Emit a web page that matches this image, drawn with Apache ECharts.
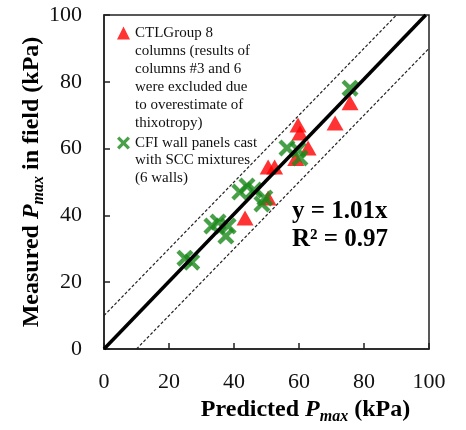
<!DOCTYPE html>
<html><head><meta charset="utf-8">
<script src="https://cdn.jsdelivr.net/npm/echarts@6/dist/echarts.min.js"></script>
<style>html,body{margin:0;padding:0;background:#fff}#c{width:466px;height:430px}</style>
</head><body><div id="c"></div>
<script>
const xTicks = [0, 20, 40, 60, 80, 100];
const yTicks = [0, 20, 40, 60, 80, 100];
const ctlPredicted = [75.7, 71.1, 59.7, 60.3, 62.8, 59.0, 50.5, 52.5, 50.5, 43.4];
const ctlMeasured  = [73.7, 67.7, 67.1, 64.7, 60.2, 57.0, 54.5, 54.5, 45.2, 39.2];
const cfiPredicted = [75.7, 56.3, 59.7, 60.3, 44.0, 41.8, 46.2, 49.5, 48.6, 35.1, 38.2, 37.5, 33.2, 24.9, 27.0];
const cfiMeasured  = [78.1, 60.2, 59.6, 57.2, 48.8, 47.0, 47.6, 45.2, 43.4, 38.0, 36.8, 33.8, 36.8, 27.2, 26.0];
const fitLine = [[0, 0], [99, 100]];
const upperBound = [[0, 10], [90, 100]];
const lowerBound = [[10, 0], [100, 90]];
const ctlName = 'CTLGroup 8\ncolumns (results of\ncolumns #3 and 6\nwere excluded due\nto overestimate of\nthixotropy)';
const cfiName = 'CFI wall panels cast\nwith SCC mixtures\n(6 walls)';
const eqText = 'y = 1.01x\nR² = 0.97';

const FONT = 'Liberation Serif';
const xPath = 'path://M0,2.5 L2.5,0 L7,4.5 L11.5,0 L14,2.5 L9.5,7 L14,11.5 L11.5,14 L7,9.5 L2.5,14 L0,11.5 L4.5,7 Z';
const nameRich = {
  b: {fontFamily: FONT, fontWeight: 'bold', fontSize: 24, color: '#000', lineHeight: 30},
  i: {fontFamily: FONT, fontWeight: 'bold', fontStyle: 'italic', fontSize: 24, color: '#000', lineHeight: 30},
  s: {fontFamily: FONT, fontWeight: 'bold', fontStyle: 'italic', fontSize: 16, color: '#000', lineHeight: 16, verticalAlign: 'bottom'}
};
const LH = 18;
const legendText = {fontFamily: FONT, fontSize: 15, color: '#111', lineHeight: LH};
function legendFor(name, iconY) {
  return {
    data: [name], orient: 'vertical', left: 117, top: iconY - LH / 2,
    padding: 0, itemWidth: 13, itemHeight: 13, itemGap: 0,
    formatter: n => n.split('\n')[0],
    textStyle: legendText
  };
}
function restLines(name, top) {
  return {
    type: 'text', left: 135, top: top, silent: true,
    style: {text: name.split('\n').slice(1).join('\n'), font: '15px "Liberation Serif"', fill: '#111', lineHeight: LH}
  };
}
const chart = echarts.init(document.getElementById('c'));
chart.setOption({
  animation: false,
  grid: {left: 104, right: 37, top: 15, bottom: 81, show: true, borderColor: '#222', borderWidth: 1.5},
  legend: [legendFor(ctlName, 33), legendFor(cfiName, 143)],
  xAxis: {
    type: 'value', min: xTicks[0], max: xTicks[xTicks.length - 1], interval: 20,
    name: '{b|Predicted }{i|P}{s|max}{b| (kPa)}', nameLocation: 'middle', nameGap: 46,
    nameMoveOverlap: false,
    nameTextStyle: {rich: nameRich, padding: [0, 0, 0, 78]},
    axisLine: {lineStyle: {color: '#222', width: 1.5}},
    axisTick: {inside: true, length: 6, lineStyle: {color: '#222', width: 1.5}},
    axisLabel: {fontFamily: FONT, fontSize: 22, color: '#111', margin: 22},
    splitLine: {show: false}
  },
  yAxis: {
    type: 'value', min: yTicks[0], max: yTicks[yTicks.length - 1], interval: 20,
    name: '{b|Measured }{i|P}{s|max}{b| in field (kPa)}', nameLocation: 'middle', nameGap: 57,
    nameMoveOverlap: false,
    nameTextStyle: {rich: nameRich},
    axisLine: {lineStyle: {color: '#222', width: 1.5}},
    axisTick: {inside: true, length: 6, lineStyle: {color: '#222', width: 1.5}},
    axisLabel: {fontFamily: FONT, fontSize: 22, color: '#111', margin: 22},
    splitLine: {show: false}
  },
  series: [
    {type: 'line', data: upperBound, symbol: 'none', silent: true, lineStyle: {color: '#222', width: 1.2, type: [3, 2]}},
    {type: 'line', data: lowerBound, symbol: 'none', silent: true, lineStyle: {color: '#222', width: 1.2, type: [3, 2]}},
    {name: ctlName, type: 'scatter', symbol: 'triangle', symbolSize: [17, 15],
     itemStyle: {color: '#ff0000'}, data: ctlPredicted.map((x, i) => [x, ctlMeasured[i]]), z: 3},
    {name: cfiName, type: 'scatter', symbol: xPath, symbolSize: 17,
     itemStyle: {color: '#1a8a1a'}, data: cfiPredicted.map((x, i) => [x, cfiMeasured[i]]), z: 4},
    {type: 'line', data: fitLine, symbol: 'none', silent: true, lineStyle: {color: '#000', width: 3.5}, z: 5}
  ],
  graphic: [
    restLines(ctlName, 42),
    restLines(cfiName, 151),
    {type: 'text', left: 292, top: 198, silent: true,
     style: {text: eqText, font: 'bold 25px "Liberation Serif"', fill: '#000', lineHeight: 28}}
  ]
});
</script></body></html>
